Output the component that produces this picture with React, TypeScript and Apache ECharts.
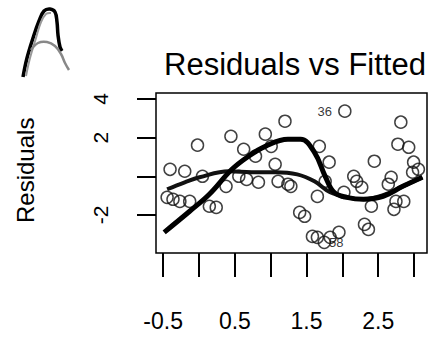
import React, { useEffect, useRef } from "react";
import * as echarts from "echarts";

const fittedX = [
  -0.404, -0.199, -0.021, -0.445, -0.363, -0.267, -0.13, 0.048, 0.144, 0.24,
  0.377, 0.445, 0.555, 0.623, 0.664, 0.788, 0.829, 0.925, 1.007, 1.062,
  1.103, 1.199, 1.24, 1.281, 1.404, 1.473, 1.582, 1.651, 1.747, 1.829,
  1.952, 2.034, 1.678, 1.815, 1.651, 1.76, 2.021, 2.158, 2.199, 2.308,
  2.363, 2.404, 2.445, 2.747, 2.719, 2.856, 2.815, 2.774, 2.925, 2.993,
  2.979, 3.06, 2.64, 2.68, 2.27,
];
const residualY = [
  0.36, 0.26, 1.61, -1.09, -1.19, -1.3, -1.3, 0.0, -1.55, -1.61,
  -0.52, 2.07, 0.0, 1.4, -0.16, 1.04, -0.31, 2.18, 1.55, 0.62,
  -0.26, 2.85, -0.41, -0.52, -1.87, -2.07, -3.11, -3.16, -3.42, -3.16,
  -2.9, 3.37, 1.55, 0.73, -1.04, -0.26, -0.83, 0.0, -0.26, -2.49,
  -2.75, -1.55, 0.78, -1.3, -1.71, -1.3, 2.8, 1.66, 1.5, 0.73,
  0.21, 0.36, -0.41, -0.05, -0.57,
];
const pointLabels: Record<number, string> = { 31: "36", 28: "58" };

const smoothAX = [-0.486, -0.13, 0.144, 0.459, 0.692, 0.925, 1.24, 1.418, 1.61, 1.76, 1.884, 2.062, 2.295, 2.568, 2.842, 3.116];
const smoothAY = [-2.9, -1.81, -0.93, 0.36, 1.04, 1.55, 1.92, 1.92, 1.24, 0.0, -0.83, -1.09, -1.19, -1.04, -0.52, -0.05];
const smoothBX = [-0.445, -0.199, 0.007, 0.418, 0.733, 1.062, 1.37, 1.61, 1.829, 2.062, 2.295, 2.568, 2.842, 3.116];
const smoothBY = [-0.67, -0.31, -0.05, 0.26, 0.21, 0.21, 0.1, -0.26, -0.83, -1.09, -1.19, -0.98, -0.52, -0.05];

const xTicks = [-0.5, 0, 0.5, 1, 1.5, 2, 2.5, 3];
const xTickLabels = [-0.5, 0.5, 1.5, 2.5];
const yTicks = [-2, 0, 2, 4];
const yTickLabels = [-2, 2, 4];

const FONT = "Liberation Sans, Arial, sans-serif";

export default function App() {
  const ref = useRef<HTMLDivElement>(null);
  useEffect(() => {
    if (!ref.current) return;
    const chart = echarts.init(ref.current, null, { renderer: "svg" });
    const scatterData = fittedX.map((x, i) => {
      const item: any = { value: [x, residualY[i]] };
      if (pointLabels[i]) {
        item.label = {
          show: true,
          formatter: pointLabels[i],
          position: i === 31 ? "left" : "right",
          distance: i === 31 ? 6 : -2,
          fontSize: 13,
          fontFamily: FONT,
          color: "#000",
        };
      }
      return item;
    });
    chart.setOption({
      animation: false,
      backgroundColor: "#fff",
      title: {
        text: "Residuals vs Fitted",
        left: 290,
        top: 44,
        textAlign: "center",
        textStyle: { fontSize: 31, fontWeight: "normal", fontFamily: FONT, color: "#000" },
      },
      grid: {
        left: 156,
        top: 93,
        width: 271,
        height: 160,
        show: true,
        borderColor: "#000",
        borderWidth: 1.5,
        backgroundColor: "transparent",
      },
      xAxis: {
        type: "value",
        min: -0.6,
        max: 3.18,
        axisLine: { show: false, onZero: false },
        splitLine: { show: false },
        axisTick: {
          show: true,
          length: 24,
          customValues: xTicks,
          lineStyle: { color: "#000", width: 2 },
        },
        axisLabel: {
          customValues: xTickLabels,
          margin: 56,
          fontSize: 23,
          fontFamily: FONT,
          color: "#000",
          formatter: (v: number) => String(v),
        },
      },
      yAxis: {
        type: "value",
        min: -3.97,
        max: 4.31,
        axisLine: { show: false, onZero: false },
        splitLine: { show: false },
        axisTick: {
          show: true,
          length: 19,
          customValues: yTicks,
          lineStyle: { color: "#000", width: 2 },
        },
        axisLabel: {
          customValues: yTickLabels,
          rotate: 90,
          margin: 45,
          fontSize: 21,
          fontFamily: FONT,
          color: "#000",
          formatter: (v: number) => String(v),
        },
      },
      graphic: [
        {
          type: "text",
          rotation: Math.PI / 2,
          style: { text: "Residuals", fontSize: 24, fontFamily: FONT, fill: "#000" },
          x: 13,
          y: 223,
        },
        {
          type: "polyline",
          shape: { points: [[23, 77], [27, 58], [33, 38], [39, 21], [44, 11], [50, 9], [55, 12], [57, 22], [58, 35], [60, 47], [62, 51]], smooth: 0.4 },
          style: { stroke: "#000", lineWidth: 3.5, fill: "none" },
        },
        {
          type: "polyline",
          shape: { points: [[26, 76], [30, 58], [36, 38], [41, 22], [46, 14], [51, 13]], smooth: 0.4 },
          style: { stroke: "#999", lineWidth: 2, fill: "none" },
        },
        {
          type: "polyline",
          shape: { points: [[31, 50], [38, 43], [47, 42], [55, 46], [61, 54], [65, 63], [69, 70]], smooth: 0.4 },
          style: { stroke: "#888", lineWidth: 2.5, fill: "none" },
        },
      ],
      series: [
        {
          type: "scatter",
          data: scatterData,
          symbol: "circle",
          symbolSize: 12,
          itemStyle: { color: "rgba(255,255,255,0)", borderColor: "#111", borderWidth: 1.5 },
          z: 2,
        },
        {
          type: "line",
          data: smoothBX.map((x, i) => [x, smoothBY[i]]),
          showSymbol: false,
          smooth: 0.4,
          lineStyle: { color: "#111", width: 4 },
          z: 3,
        },
        {
          type: "line",
          data: smoothAX.map((x, i) => [x, smoothAY[i]]),
          showSymbol: false,
          smooth: 0.4,
          lineStyle: { color: "#000", width: 5 },
          z: 4,
        },
      ],
    });
    return () => chart.dispose();
  }, []);
  return <div ref={ref} style={{ width: 429, height: 337, position: "absolute", left: 0, top: 0 }} />;
}
